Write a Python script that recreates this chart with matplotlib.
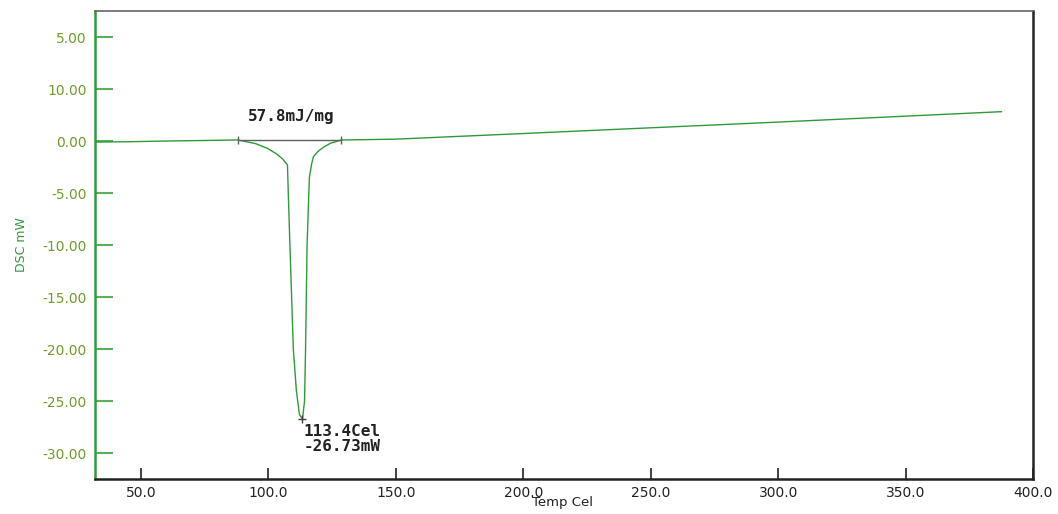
import matplotlib.pyplot as plt

# DSC curve (temperature in Cel, heat flow in mW)
temp = [32.0, 45.0, 60.0, 75.0, 88.0, 95.0, 99.6, 103.0, 105.5, 107.5, 108.2,
        109.0, 109.8, 111.0, 112.2, 113.4, 114.2, 114.6, 115.2, 116.1, 117.0,
        117.7, 119.5, 121.6, 124.5, 128.7, 140.0, 150.0, 200.0, 250.0, 300.0,
        350.0, 387.6]
dsc = [-0.10, -0.07, 0.00, 0.05, 0.10, -0.25, -0.70, -1.20, -1.70, -2.30, -8.0,
       -14.0, -20.0, -24.0, -26.3, -26.73, -25.0, -20.0, -10.0, -3.5, -2.2,
       -1.5, -1.0, -0.6, -0.2, 0.10, 0.14, 0.18, 0.72, 1.27, 1.82,
       2.39, 2.82]

# integration baseline and peak annotation
base_t = [88.0, 128.7]
base_v = [0.10, 0.10]
peak_t = 113.4
peak_v = -26.73
enthalpy = '57.8mJ/mg'

# tick values and the labels exactly as printed on the original
yticks = [10, 5, 0, -5, -10, -15, -20, -25, -30]
ylabels = ['5.00', '10.00', '0.00', '-5.00', '-10.00', '-15.00', '-20.00',
           '-25.00', '-30.00']
xticks = [50, 100, 150, 200, 250, 300, 350, 400]

green = '#2f9a3a'
label_green = '#6e9d2a'

fig = plt.figure(figsize=(10.58, 5.14), dpi=100)
ax = fig.add_axes([0.0898, 0.068, 0.8866, 0.9106])

ax.plot(temp, dsc, color=green, lw=1.0)
ax.plot(base_t, base_v, color='#606060', lw=1.0, marker='|', ms=6, mew=1.0)
ax.plot([peak_t], [peak_v], marker='+', color='#404040', ms=6, mew=1.0)

ax.text(92.0, 2.4, enthalpy, fontsize=11.5, fontweight='bold',
        family='DejaVu Sans Mono', color='#222222', va='center')
ax.text(113.8, -27.2, '113.4Cel\n-26.73mW', fontsize=11.5, fontweight='bold',
        family='DejaVu Sans Mono', color='#222222', va='top', linespacing=1.0)

ax.set_xlim(32, 400)
ax.set_ylim(-32.5, 12.5)
ax.set_xticks(xticks)
ax.set_xticklabels([f'{x:.1f}' for x in xticks])
ax.set_yticks(yticks)
ax.set_yticklabels(ylabels)

ax.tick_params(axis='y', direction='in', length=13, width=1.5, color='#5cb05c',
               labelcolor=label_green, labelsize=10, pad=6)
ax.tick_params(axis='x', direction='in', length=8, width=1.2, color='#222222',
               labelcolor='#222222', labelsize=10, pad=5)

ax.spines['left'].set_color(green)
ax.spines['left'].set_linewidth(1.8)
ax.spines['bottom'].set_color('#222222')
ax.spines['bottom'].set_linewidth(1.8)
ax.spines['top'].set_color('#666666')
ax.spines['top'].set_linewidth(1.2)
ax.spines['right'].set_color('#222222')
ax.spines['right'].set_linewidth(1.8)

ax.set_xlabel('Temp Cel', fontsize=9.5, color='#222222', va='center')
ax.set_ylabel('DSC mW', fontsize=9, color=green, va='center')
ax.yaxis.set_label_coords(-0.078, 0.5)
ax.xaxis.set_label_coords(0.498, -0.051)

fig.savefig('out.png', dpi=100)
